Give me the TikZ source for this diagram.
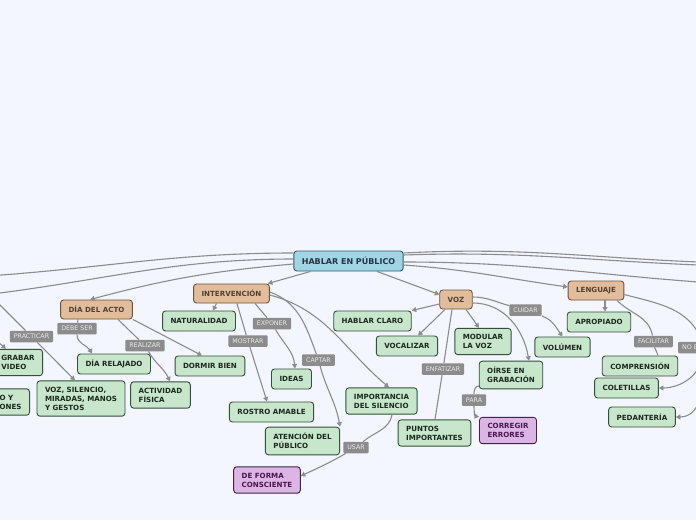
\documentclass[tikz,border=0pt]{standalone}
\usepackage{fontspec}
\setmainfont{DejaVu Sans}
\usepackage{xcolor}
\usetikzlibrary{arrows.meta,positioning,calc}

\definecolor{bgcol}{RGB}{243,246,254}
\definecolor{linegray}{RGB}{140,140,140}
\definecolor{labelgray}{RGB}{140,140,140}
\definecolor{labeltext}{RGB}{234,234,234}
\definecolor{greenfill}{RGB}{200,230,203}
\definecolor{greenline}{RGB}{52,78,58}
\definecolor{greentext}{RGB}{28,40,30}
\definecolor{orangefill}{RGB}{226,189,156}
\definecolor{brownline}{RGB}{110,82,60}
\definecolor{browntext}{RGB}{80,64,52}
\definecolor{centralfill}{RGB}{160,213,230}
\definecolor{centralline}{RGB}{50,90,110}
\definecolor{centraltext}{RGB}{40,52,66}
\definecolor{purplefill}{RGB}{219,182,228}
\definecolor{purpleline}{RGB}{70,30,75}
\definecolor{purpletext}{RGB}{75,20,80}

\begin{document}
\begin{tikzpicture}[
  x=1pt,y=-1pt,>={Triangle[length=4.5pt,width=5pt]},
  link/.style={draw=linegray,line width=1.1pt},
  flow/.style={link,->},
  topic/.style={draw=greenline,fill=greenfill,text=greentext,
    rounded corners=3pt,line width=0.9pt,inner xsep=8pt,inner ysep=6pt,
    minimum height=20pt,align=left,font=\fontsize{7.1}{9}\selectfont\bfseries},
  branch/.style={topic,draw=brownline,fill=orangefill,text=browntext,
    minimum height=19pt},
  central/.style={topic,draw=centralline,fill=centralfill,text=centraltext,
    font=\fontsize{8}{9}\selectfont\bfseries},
  result/.style={topic,draw=purpleline,fill=purplefill,text=purpletext},
  verb/.style={fill=labelgray,text=labeltext,rounded corners=1pt,
    inner xsep=4pt,inner ysep=1.5pt,minimum height=11.5pt,
    font=\fontsize{6.3}{7}\selectfont}
]
  \path[use as bounding box,fill=bgcol] (0,0) rectangle (696,520);
  \clip (0,0) rectangle (696,520);

  % centre and main branches
  \node[central] (hub) at (348.5,261) {HABLAR EN PÚBLICO};
  \node[branch] (acto) at (96.5,309.5) {DÍA DEL ACTO};
  \node[branch] (interv) at (231.5,293.5) {INTERVENCIÓN};
  \node[branch] (voz) at (456,299.5) {VOZ};
  \node[branch] (leng) at (596,290.5) {LENGUAJE};

  % topics
  \node[topic,anchor=east] (grabar) at (43,362.5) {GRABAR\\VIDEO};
  \node[topic,anchor=east] (cortado) at (30,402) {O Y\\ONES};
  \node[topic] (gestos) at (81,398.5) {VOZ, SILENCIO,\\MIRADAS, MANOS\\Y GESTOS};
  \node[topic] (relajado) at (114,364) {DÍA RELAJADO};
  \node[topic] (fisica) at (160.5,395) {ACTIVIDAD\\FÍSICA};
  \node[topic] (natur) at (199,321) {NATURALIDAD};
  \node[topic] (dormir) at (210,366) {DORMIR BIEN};
  \node[topic] (ideas) at (291.5,379) {IDEAS};
  \node[topic] (rostro) at (271.5,412) {ROSTRO AMABLE};
  \node[topic] (atencion) at (302.5,441) {ATENCIÓN DEL\\PÚBLICO};
  \node[topic] (silencio) at (381.5,401) {IMPORTANCIA\\DEL SILENCIO};
  \node[result] (consciente) at (267,480) {DE FORMA\\CONSCIENTE};
  \node[topic] (claro) at (372.5,321) {HABLAR CLARO};
  \node[topic] (vocal) at (407,346) {VOCALIZAR};
  \node[topic] (modular) at (483,341.5) {MODULAR\\LA VOZ};
  \node[topic] (grabacion) at (511,375) {OÍRSE EN\\GRABACIÓN};
  \node[topic] (puntos) at (434.5,433) {PUNTOS\\IMPORTANTES};
  \node[result] (errores) at (508,430.5) {CORREGIR\\ERRORES};
  \node[topic] (volumen) at (562.5,347) {VOLÚMEN};
  \node[topic] (apropiado) at (599,322) {APROPIADO};
  \node[topic] (comprension) at (640,366) {COMPRENSIÓN};
  \node[topic] (coletillas) at (626.5,388) {COLETILLAS};
  \node[topic] (pedanteria) at (642,417) {PEDANTERÍA};

  % connector labels
  \node[verb] (practicar) at (31.5,336.5) {PRACTICAR};
  \node[verb] (debeser) at (77,328.5) {DEBE SER};
  \node[verb] (realizar) at (145,345.5) {REALIZAR};
  \node[verb] (mostrar) at (248,341) {MOSTRAR};
  \node[verb] (exponer) at (272,323.5) {EXPONER};
  \node[verb] (captar) at (318.5,360) {CAPTAR};
  \node[verb] (usar) at (356,447.5) {USAR};
  \node[verb] (enfatizar) at (443,369) {ENFATIZAR};
  \node[verb] (para) at (474,400) {PARA};
  \node[verb] (cuidar) at (525.5,310) {CUIDAR};
  \node[verb] (facilitar) at (653.5,341.5) {FACILITAR};
  \node[verb,anchor=west] (noe) at (678,347.5) {NO E};

  % ends outside the frame
  \coordinate (offW1) at (-12,276);
  \coordinate (offW2) at (-12,294.5);
  \coordinate (outPract) at (-12,293);
  \coordinate (outGrabar) at (-12,333);
  \coordinate (offE1) at (712,262.5);
  \coordinate (offE2) at (712,265.5);
  \coordinate (offE3) at (712,283);

  % from the centre
  \draw[link] ([yshift=8pt]hub.west) to[out=180,in=4] (offW1);
  \draw[link] ([yshift=2pt]hub.west) to[out=180,in=7] (offW2);
  \draw[flow] ([yshift=-3pt]hub.west) to[out=185,in=15] ([xshift=-6.5pt]acto.north);
  \draw[flow] ([xshift=-38pt]hub.south) -- ([xshift=-2pt]interv.north east);
  \draw[flow] ([xshift=28.5pt]hub.south) -- ([yshift=5pt]voz.west);
  \draw[link] ([yshift=8pt]hub.east) to[out=3,in=178] (offE1);
  \draw[link] ([yshift=6pt]hub.east) to[out=2,in=178] (offE2);
  \draw[link] ([yshift=-1pt]hub.east) to[out=0,in=176] (offE3);
  \draw[flow] ([yshift=-4pt]hub.east) to[out=-4,in=172] ([yshift=3.5pt]leng.west);

  % left, outside
  \draw[flow] (outPract) -- (practicar) -- ([xshift=-6pt]gestos.north);
  \draw[flow] (outGrabar) -- ([xshift=-12pt]grabar.north);

  % dia del acto
  \draw[flow] ([xshift=-18.5pt]acto.south) -- (debeser)
    to[out=-90,in=120] ([xshift=-22pt]relajado.north);
  \draw[flow] ([xshift=21.5pt]acto.south) -- (realizar)
    to[out=-60,in=115] ([xshift=9.5pt]fisica.north);
  \draw[flow] (acto.south east) -- ([xshift=-8pt]dormir.north);

  % intervencion
  \draw[flow] ([xshift=-15pt]interv.south) -- ([xshift=14pt]natur.north);
  \draw[flow] ([xshift=5.5pt]interv.south) -- (mostrar) -- ([xshift=-4.5pt]rostro.north);
  \draw[flow] ([xshift=23.5pt]interv.south) -- (exponer)
    to[out=-60,in=95] ([xshift=3.5pt]ideas.north);
  \draw[flow] ([yshift=1.5pt]interv.east) to[out=-20,in=110] (captar)
    to[out=-75,in=100] (atencion.north east);
  \draw[flow] ([yshift=-1.5pt]interv.east) to[out=-15,in=140] ([xshift=7.5pt]silencio.north);
  \draw[flow] ([xshift=10.5pt]silencio.south) to[out=-100,in=40] (usar)
    to[out=-150,in=25] ([yshift=4pt]consciente.east);

  % voz
  \draw[flow] ([yshift=-4.5pt]voz.west) -- (claro.north east);
  \draw[flow] ([xshift=-11pt]voz.south) -- ([xshift=11pt]vocal.north);
  \draw[flow] ([xshift=10pt]voz.south) -- ([xshift=-4pt]modular.north);
  \draw[link] ([xshift=-4pt]voz.south) -- (enfatizar) -- ([xshift=0.5pt]puntos.north);
  \draw[flow] ([yshift=-3.5pt]voz.east) to[out=0,in=100] ([xshift=18pt]grabacion.north);
  \draw[flow] ([yshift=2.5pt]voz.east) to[out=0,in=165] (cuidar)
    to[out=-20,in=125] (volumen.north);
  \draw[flow] ([yshift=-11pt]grabacion.west) to[out=180,in=90] (para)
    to[out=-90,in=170] (errores.north west);

  % lenguaje
  \draw[flow] ([xshift=9pt]leng.south) -- ([xshift=6pt]apropiado.north);
  \draw[link] ([xshift=21pt]leng.south) to[out=-45,in=100] (facilitar)
    to[out=-80,in=90] ([xshift=18pt]comprension.north);
  \draw[link] ([yshift=-4pt]leng.east) to[out=-15,in=110] (noe.north east);
  \draw[flow] (noe.south east) to[out=-90,in=0] (coletillas.east);
  \draw[flow] (noe.south east) to[out=-80,in=0] (pedanteria.east);
\end{tikzpicture}
\end{document}
